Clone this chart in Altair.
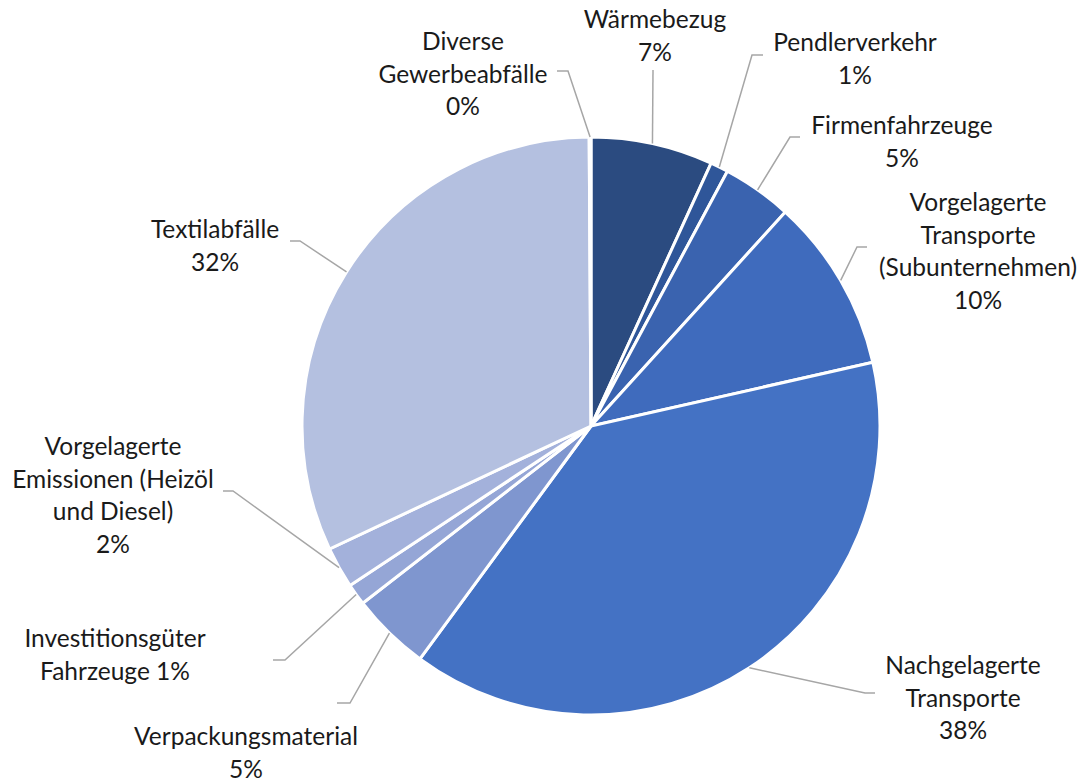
import math
import altair as alt
import pandas as pd

# ---- data ----
categories = [
    "Wärmebezug", "Pendlerverkehr", "Firmenfahrzeuge",
    "Vorgelagerte Transporte (Subunternehmen)", "Nachgelagerte Transporte",
    "Verpackungsmaterial", "Investitionsgüter Fahrzeuge",
    "Vorgelagerte Emissionen (Heizöl und Diesel)", "Textilabfälle",
    "Diverse Gewerbeabfälle",
]
shares = [6.8, 1.0, 3.9, 9.7, 38.5, 4.4, 1.2, 2.3, 31.8, 0.1]
pct_labels = ["7%", "1%", "5%", "10%", "38%", "5%", "1%", "2%", "32%", "0%"]
wrapped_names = [
    "Wärmebezug", "Pendlerverkehr", "Firmenfahrzeuge",
    "Vorgelagerte\nTransporte\n(Subunternehmen)", "Nachgelagerte\nTransporte",
    "Verpackungsmaterial", "Investitionsgüter\nFahrzeuge",
    "Vorgelagerte\nEmissionen (Heizöl\nund Diesel)", "Textilabfälle",
    "Diverse\nGewerbeabfälle",
]
pct_separator = ["\n", "\n", "\n", "\n", "\n", "\n", " ", "\n", "\n", "\n"]

# ---- styles / layout ----
colors = ["#2B4B80", "#2F5699", "#3A63AF", "#3F6BBD", "#4472C4",
          "#7F96CF", "#95A6D6", "#A3B1DB", "#B4C0E0", "#C6CFEA"]
CX, CY, R = 591, 426, 289          # pie centre / radius (page pixels)
W, H = 1069, 772                   # plot area
# centre of the first text line of each label
label_pos = [(655, 21), (855, 44), (902, 127), (978, 204), (963, 667),
             (246, 738), (115, 640), (113, 448), (215, 231), (463, 43)]
leader_tail = [
    [(653, 70)],
    [(752, 55), (763, 55)],
    [(790, 137), (800, 137)],
    [(857, 247), (867, 247)],
    [(865, 693), (875, 693)],
    [(350, 703), (337, 703)],
    [(285, 660), (273, 660)],
    [(233, 491), (223, 491)],
    [(300, 241), (290, 241)],
    [(568, 71), (557, 71)],
]

# ---- tables ----
pie_df = pd.DataFrame({"cat": categories, "value": shares,
                       "idx": list(range(len(categories)))})

total = sum(shares)
rows = []
cum = 0.0
for i, (c, v) in enumerate(zip(categories, shares)):
    mid = (cum + v / 2) / total * 2 * math.pi
    cum += v
    sx = CX + R * math.sin(mid)
    sy = CY - R * math.cos(mid)
    pts = [(sx, sy)] + leader_tail[i]
    for k, (px, py) in enumerate(pts):
        rows.append({"cat": c, "seq": k, "x": px, "y": py})
line_df = pd.DataFrame(rows)

text_df = pd.DataFrame({
    "cat": categories,
    "label": [n + s + p for n, s, p in zip(wrapped_names, pct_separator, pct_labels)],
    "x": [p[0] for p in label_pos],
    "y": [p[1] for p in label_pos],
})

xs = alt.Scale(domain=[8, 8 + W], nice=False, zero=False)
ys = alt.Scale(domain=[8, 8 + H], nice=False, zero=False, reverse=True)

pie = alt.Chart(pie_df).mark_arc(radius=R, stroke="white", strokeWidth=3).encode(
    theta=alt.Theta("value:Q", stack=True),
    color=alt.Color("cat:N", scale=alt.Scale(domain=categories, range=colors), legend=None),
    order=alt.Order("idx:Q"),
    x=alt.value(CX - 8),
    y=alt.value(CY - 8),
)

leaders = alt.Chart(line_df).mark_line(color="#A6A6A6", strokeWidth=1.5).encode(
    x=alt.X("x:Q", scale=xs, axis=None),
    y=alt.Y("y:Q", scale=ys, axis=None),
    detail="cat:N",
    order="seq:Q",
)

labels = alt.Chart(text_df).mark_text(
    font="Lato", fontSize=24.5, lineBreak="\n", lineHeight=32.5,
    align="center", baseline="middle", color="#1A1A1A",
).encode(
    x=alt.X("x:Q", scale=xs, axis=None),
    y=alt.Y("y:Q", scale=ys, axis=None),
    text="label:N",
)

chart = alt.layer(pie, leaders, labels).properties(
    width=W, height=H, padding=0, autosize=alt.AutoSizeParams(type="none"),
).configure_view(strokeWidth=0)

chart.save("out.html", embed_options={"renderer": "svg", "actions": False})
